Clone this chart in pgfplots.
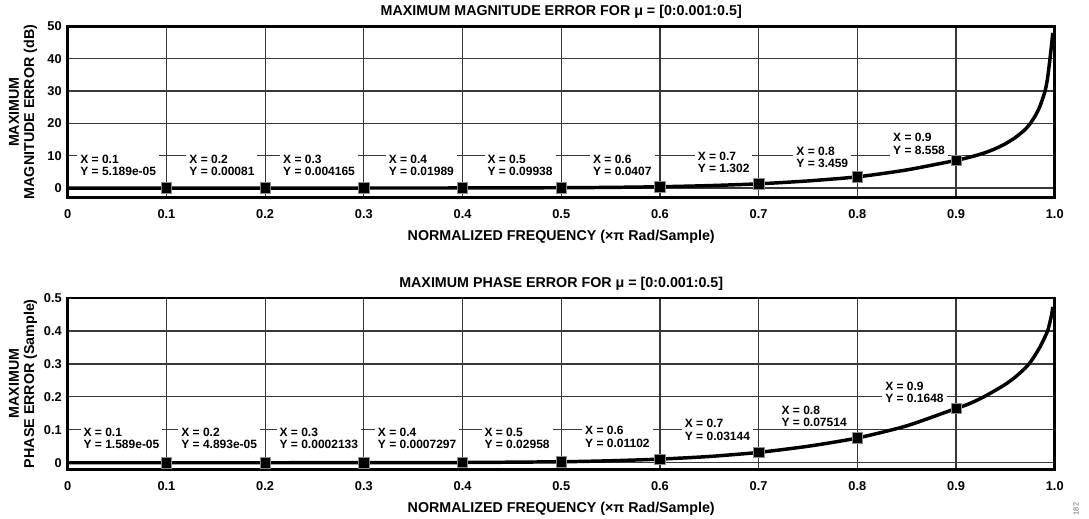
\documentclass[border=0pt]{standalone}
\usepackage{fontspec}
\setmainfont{Liberation Sans}
\usepackage{pgfplots}
\pgfplotsset{compat=1.18}
\pgfplotsset{
  errstyle/.style={
    scale only axis, width=740.25pt, height=128.5pt,
    anchor=south west, clip=false,
    xmin=0, xmax=1,
    xtick={0,0.1,0.2,0.3,0.4,0.5,0.6,0.7,0.8,0.9,1},
    xticklabels={0,0.1,0.2,0.3,0.4,0.5,0.6,0.7,0.8,0.9,1.0},
    grid=major, major grid style={draw=black!78, line width=0.9pt},
    axis line style={line width=2pt},
    tick style={draw=none},
    /pgf/number format/assume math mode=true,
    ticklabel style={font=\bfseries\fontsize{9.6}{10}\selectfont},
    xticklabel style={anchor=center, inner sep=0pt, yshift=-12.4pt},
    yticklabel style={anchor=east, inner sep=0pt, xshift=-4.3pt},
    label style={font=\bfseries\fontsize{10.7}{11.3}\selectfont},
    title style={font=\bfseries\fontsize{10.7}{11.3}\selectfont, anchor=center, at={(axis description cs:0.5,1)}, yshift=5pt},
    xlabel style={anchor=center, at={(axis description cs:0.5,0)}, yshift=-29.6pt},
    ylabel style={align=center, anchor=center, at={(axis description cs:0,0.5)}, yshift=33.5pt},
    xlabel={NORMALIZED FREQUENCY (×π Rad/Sample)},
  },
  curve/.style={black, line width=2.6pt, line join=round, no marks, smooth, tension=0.4},
  pts/.style={only marks, mark=square*, mark size=3.9pt, mark options={fill=black, draw=black!45, line width=0.5pt}},
}
\tikzset{
  tip/.style={fill=white, inner xsep=2.25pt, inner ysep=1.5pt, align=left, anchor=west,
    font=\bfseries\fontsize{9}{9.25}\selectfont},
}
\begin{document}
\begin{tikzpicture}
\useasboundingbox (0pt,0pt) rectangle (816.75pt,388.5pt);

\begin{axis}[errstyle, at={(50.8pt,240.2pt)},
  ymin=-3, ymax=50, ytick={0,10,20,30,40,50},
  yticklabels={0,10,20,30,40,50},
  title={MAXIMUM MAGNITUDE ERROR FOR μ = [0:0.001:0.5]},
  ylabel={MAXIMUM\\MAGNITUDE ERROR (dB)}]
\addplot[curve] coordinates {
(0,0) (0.1,0) (0.2,0) (0.3,0.005) (0.4,0.02) (0.5,0.1) (0.55,0.2) (0.6,0.4)
(0.65,0.75) (0.7,1.3) (0.75,2.2) (0.8,3.46) (0.85,5.6) (0.9,8.56)
(0.91,9.25) (0.92,10.05) (0.93,11.0) (0.94,12.2) (0.95,13.7) (0.96,15.6) (0.97,18.1)
(0.975,19.9) (0.98,22.2) (0.985,25.3) (0.99,29.8) (0.9925,33.5) (0.995,39.5)
(0.997,45) (0.998,48)
};
\addplot[pts] coordinates {
(0.1,0) (0.2,0) (0.3,0.005) (0.4,0.02) (0.5,0.1) (0.6,0.4) (0.7,1.302) (0.8,3.459) (0.9,8.558)
};
\node[tip] at (axis cs:0.0095,7.0) {X = 0.1\\Y = 5.189e-05};
\node[tip] at (axis cs:0.120,7.0) {X = 0.2\\Y = 0.00081};
\node[tip] at (axis cs:0.215,7.0) {X = 0.3\\Y = 0.004165};
\node[tip] at (axis cs:0.322,7.0) {X = 0.4\\Y = 0.01989};
\node[tip] at (axis cs:0.422,7.0) {X = 0.5\\Y = 0.09938};
\node[tip] at (axis cs:0.529,7.0) {X = 0.6\\Y = 0.0407};
\node[tip] at (axis cs:0.635,8.0) {X = 0.7\\Y = 1.302};
\node[tip] at (axis cs:0.735,9.5) {X = 0.8\\Y = 3.459};
\node[tip] at (axis cs:0.833,13.7) {X = 0.9\\Y = 8.558};
\end{axis}

\begin{axis}[errstyle, at={(50.8pt,36.5pt)},
  ymin=-0.02, ymax=0.5, ytick={0,0.1,0.2,0.3,0.4,0.5},
  yticklabels={0,0.1,0.2,0.3,0.4,0.5},
  title={MAXIMUM PHASE ERROR FOR μ = [0:0.001:0.5]},
  ylabel={MAXIMUM\\PHASE ERROR (Sample)}]
\addplot[curve] coordinates {
(0,0) (0.1,0) (0.2,0) (0.3,0.0002) (0.4,0.0007) (0.5,0.003) (0.55,0.006) (0.6,0.011)
(0.65,0.019) (0.7,0.0314) (0.75,0.050) (0.8,0.0751) (0.85,0.112) (0.9,0.1648)
(0.91,0.175) (0.92,0.188) (0.93,0.203) (0.94,0.22) (0.95,0.238) (0.96,0.26) (0.97,0.287)
(0.975,0.304) (0.98,0.326) (0.985,0.351) (0.99,0.381) (0.993,0.402) (0.995,0.425)
(0.997,0.452) (0.998,0.473)
};
\addplot[pts] coordinates {
(0.1,0) (0.2,0) (0.3,0.0002) (0.4,0.0007) (0.5,0.003) (0.6,0.011) (0.7,0.03144) (0.8,0.07514) (0.9,0.1648)
};
\node[tip] at (axis cs:0.0128,0.0733) {X = 0.1\\Y = 1.589e-05};
\node[tip] at (axis cs:0.1118,0.0733) {X = 0.2\\Y = 4.893e-05};
\node[tip] at (axis cs:0.2114,0.0733) {X = 0.3\\Y = 0.0002133};
\node[tip] at (axis cs:0.311,0.0733) {X = 0.4\\Y = 0.0007297};
\node[tip] at (axis cs:0.419,0.0733) {X = 0.5\\Y = 0.02958};
\node[tip] at (axis cs:0.521,0.079) {X = 0.6\\Y = 0.01102};
\node[tip] at (axis cs:0.622,0.0997) {X = 0.7\\Y = 0.03144};
\node[tip] at (axis cs:0.720,0.1406) {X = 0.8\\Y = 0.07514};
\node[tip] at (axis cs:0.825,0.2127) {X = 0.9\\Y = 0.1648};
\end{axis}

\node[rotate=90, text=black!60, font=\fontsize{5.5}{6}\selectfont, inner sep=0pt] at (807pt,6.75pt) {182};
\end{tikzpicture}
\end{document}
